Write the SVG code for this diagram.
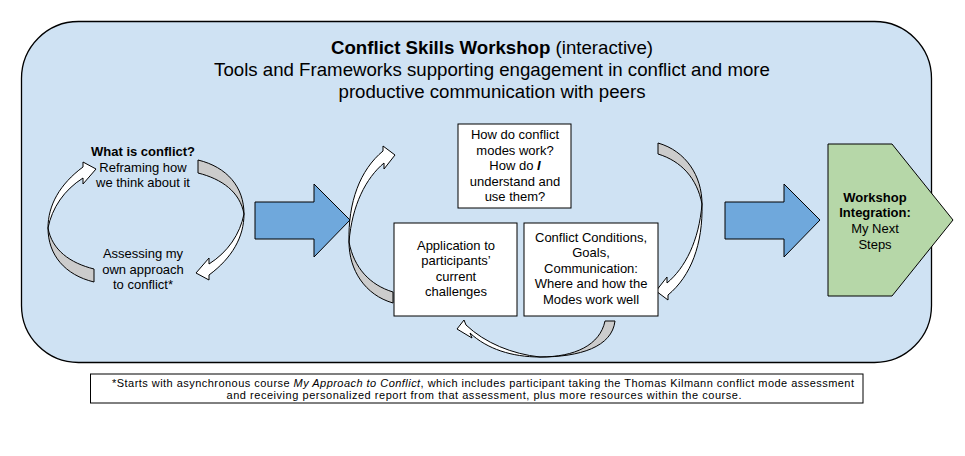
<svg xmlns="http://www.w3.org/2000/svg" width="965" height="456" viewBox="0 0 965 456">
<style>
text{font-family:"Liberation Sans",Arial,sans-serif;fill:#000;text-anchor:middle}
.t13{font-size:13px}
.t18{font-size:18.67px}
.fn{font-size:11px}
.b{font-weight:bold}
.box{fill:#fff;stroke:#000;stroke-width:1}
.wh{fill:#fff;stroke:#000;stroke-width:1;stroke-linejoin:round}
.gr{fill:#cccccc;stroke:#000;stroke-width:1;stroke-linejoin:round}
.blue{fill:#6fa8dc;stroke:#000;stroke-width:1}
</style>
<defs>
<g id="lcArrow">
<path class="gr" d="M48,228 C48,255 65,275 94,282 L94,269 C70,263 52,250 48,228 Z"/>
<path class="wh" d="M48,228 C48,205 60,184 83,167 L83,162 L96,169 L83,184 L83,178 C64,190 52,208 48,228 Z"/>
</g>
<g id="mcArrow">
<path class="gr" d="M349,242 C349,270 365,295 393,303 L393,292 C370,285 354,268 349,242 Z"/>
<path class="wh" d="M349,242 C348,202 360,170 383,151 L383,146 L395,155 L384,169 L384,163 C366,178 352,205 349,242 Z"/>
</g>
</defs>
<g id="container">
<rect x="21.5" y="21.5" width="910" height="341" rx="57" ry="57" fill="#cfe2f3" stroke="#000" stroke-width="1.3"/>
<text class="t18" x="492" y="54"><tspan class="b">Conflict Skills Workshop</tspan> (interactive)</text>
<text class="t18" x="492" y="76">Tools and Frameworks supporting engagement in conflict and more</text>
<text class="t18" x="492" y="98">productive communication with peers</text>
</g>
<g id="connectors">
<use href="#lcArrow"/>
<use href="#lcArrow" transform="rotate(180 146 221)"/>
<use href="#mcArrow"/>
<use href="#mcArrow" transform="rotate(180 525.5 223)"/>
<path class="gr" d="M540,357 C575,357 600,345 605,321 L615,321 C612,347 580,357 540,357 Z"/>
<path class="wh" d="M540,357 C512,357 487,349 470,333 L472,338 L457,329 L464,320 L466,325 C485,343 512,354 540,357 Z"/>
<polygon class="blue" points="255,202 314,202 314,184 350,220 314,257 314,239 255,239"/>
<polygon class="blue" points="725,202 784,202 784,184 820,220 784,257 784,239 725,239"/>
</g>
<g id="whatIsConflict">
<text class="t13 b" x="143" y="156">What is conflict?</text>
<text class="t13" x="143" y="172">Reframing how</text>
<text class="t13" x="143" y="187">we think about it</text>
</g>
<g id="assessing">
<text class="t13" x="143" y="258">Assessing my</text>
<text class="t13" x="143" y="274">own approach</text>
<text class="t13" x="143" y="289">to conflict*</text>
</g>
<g id="conflictModes">
<rect class="box" x="458" y="124" width="113" height="84"/>
<text class="t13" x="515" y="139">How do conflict</text>
<text class="t13" x="515" y="155">modes work?</text>
<text class="t13" x="515" y="170">How do <tspan font-weight="bold" font-style="italic">I</tspan></text>
<text class="t13" x="515" y="186">understand and</text>
<text class="t13" x="515" y="201">use them?</text>
</g>
<g id="application">
<rect class="box" x="394" y="223" width="123" height="93"/>
<text class="t13" x="456" y="250">Application to</text>
<text class="t13" x="456" y="265">participants’</text>
<text class="t13" x="456" y="281">current</text>
<text class="t13" x="456" y="296">challenges</text>
</g>
<g id="conditions">
<rect class="box" x="524" y="223" width="134" height="93"/>
<text class="t13" x="591" y="242">Conflict Conditions,</text>
<text class="t13" x="591" y="257">Goals,</text>
<text class="t13" x="591" y="273">Communication:</text>
<text class="t13" x="591" y="288">Where and how the</text>
<text class="t13" x="591" y="304">Modes work well</text>
</g>
<g id="integration">
<polygon points="828,144 892,144 953,220 892,296 828,296" fill="#b6d7a8" stroke="#000" stroke-width="1"/>
<text class="t13 b" x="875" y="202">Workshop</text>
<text class="t13 b" x="875" y="217">Integration:</text>
<text class="t13" x="875" y="233">My Next</text>
<text class="t13" x="875" y="249">Steps</text>
</g>
<g id="footnote">
<rect x="90.5" y="374" width="772.5" height="29" fill="#fff" stroke="#000" stroke-width="1"/>
<text class="fn" x="483" y="386.5" textLength="742" lengthAdjust="spacing">*Starts with asynchronous course <tspan font-style="italic">My Approach to Conflict</tspan>, which includes participant taking the Thomas Kilmann conflict mode assessment</text>
<text class="fn" x="484" y="398.5" textLength="515" lengthAdjust="spacing">and receiving personalized report from that assessment, plus more resources within the course.</text>
</g>
</svg>
